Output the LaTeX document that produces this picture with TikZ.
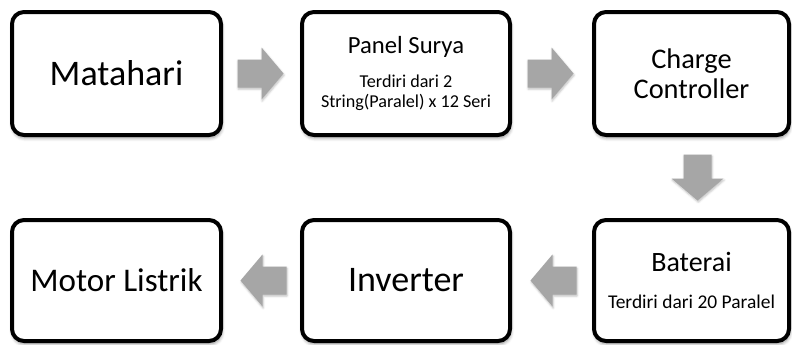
\documentclass[tikz,border=0pt]{standalone}
\usepackage{fontspec}
\setmainfont{Carlito}
\usetikzlibrary{calc,shadows.blur}

\definecolor{arrowgray}{HTML}{A6A6A6}

\tikzset{
  stage/.style={
    draw=black, line width=3pt, rounded corners=9pt, fill=white,
    rectangle, align=center, inner sep=0pt,
    blur shadow={shadow xshift=0.6pt, shadow yshift=-2.2pt,
                 shadow blur radius=2.5pt, shadow opacity=45}
  },
  % block arrow pointing along +x, centred on the pic origin
  blockarrow/.pic={
    \fill[arrowgray,
          blur shadow={shadow xshift=0.5pt, shadow yshift=-1.2pt,
                       shadow blur radius=1.5pt, shadow opacity=25}]
      (-23,-14) -- (1,-14) -- (1,-26) -- (23,0) -- (1,26) -- (1,14)
      -- (-23,14) -- cycle;
  }
}

\newcommand{\fsz}[2]{\fontsize{#1}{#2}\selectfont}

\begin{document}
\begin{tikzpicture}[x=0.75pt,y=-0.75pt]
  \useasboundingbox (0,0) rectangle (792,344);

  % top row
  \node[stage, minimum width=156.75pt, minimum height=92.25pt,
        font=\fsz{27}{30}]
    (sun) at (116.5,73.5) {Matahari};
  \node[stage, minimum width=156pt, minimum height=92.25pt,
        font=\fsz{13.6}{15}]
    (panel) at (406,73.5)
    {\fsz{18.5}{21}Panel Surya\\[10pt]
     \fsz{13.6}{15}Terdiri dari 2\\
     \fsz{13.6}{15}String(Paralel) x 12 Seri};
  \node[stage, minimum width=146.25pt, minimum height=92.25pt,
        font=\fsz{21.3}{22.5}]
    (charge) at (691.5,73.5) {Charge\\Controller};

  % bottom row
  \node[stage, minimum width=156.75pt, minimum height=90.75pt,
        font=\fsz{24.8}{28}]
    (motor) at (116.5,280.5) {Motor Listrik};
  \node[stage, minimum width=156pt, minimum height=90.75pt,
        font=\fsz{27}{30}]
    (inv) at (406,280.5) {Inverter};
  \node[stage, minimum width=146.25pt, minimum height=90.75pt,
        font=\fsz{14.6}{16}]
    (bat) at (691.5,280.5)
    {\fsz{21}{23}Baterai\\[12pt]
     \fsz{14.6}{16}Terdiri dari 20 Paralel};

  % flow arrows between the stages
  \pic at ($(sun.east)!0.5!(panel.west)+(-1,0)$) {blockarrow};
  \pic at ($(panel.east)!0.5!(charge.west)+(-1.5,0)$) {blockarrow};
  \pic[rotate=-90] at ($(charge.south)!0.5!(bat.north)+(6,0)$) {blockarrow};
  \pic[rotate=180] at ($(bat.west)!0.5!(inv.east)+(1.5,0)$) {blockarrow};
  \pic[rotate=180] at ($(inv.west)!0.5!(motor.east)+(2,0)$) {blockarrow};
\end{tikzpicture}
\end{document}
